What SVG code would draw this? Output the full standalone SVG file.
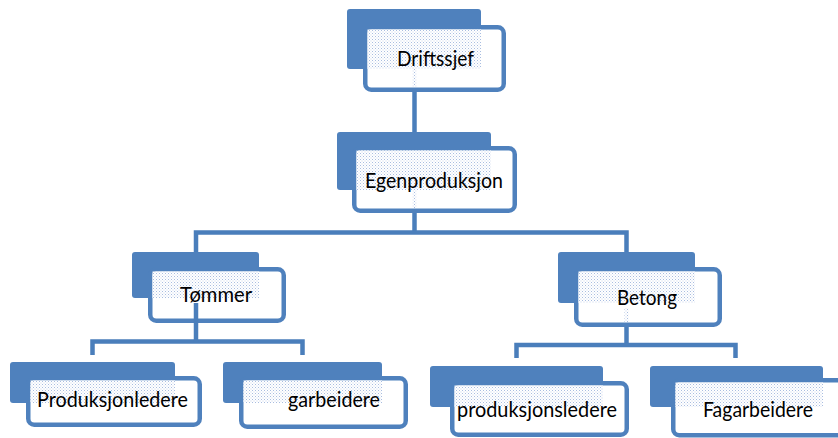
<svg xmlns="http://www.w3.org/2000/svg" width="838" height="438" viewBox="0 0 838 438">
<defs>
<pattern id="dots" width="3" height="3" patternUnits="userSpaceOnUse">
<rect x="0" y="0" width="3" height="3" fill="#ffffff"/>
<rect x="0" y="0" width="1" height="1" fill="#a9bde0"/>
<rect x="1.5" y="1.5" width="1" height="1" fill="#c9d6ed"/>
</pattern>
</defs>
<style>
.back{fill:#4f81bd;}
.front{fill:#ffffff;stroke:#4f81bd;stroke-width:4.5;}
.ov{fill:url(#dots);}
.lbl{font-family:Lato,"Liberation Sans",Arial,sans-serif;font-size:20.5px;fill:#000000;}
.conn{fill:none;stroke:#4a7ebb;stroke-width:4.5;}
</style>
<g id="connectors">
<path class="conn" d="M414.5 92 V146"/>
<path class="conn" d="M414.5 213 V232.5"/>
<path class="conn" d="M196 252 V232.5 H626.5 V252"/>
<path class="conn" d="M626.5 327 V345"/>
<path class="conn" d="M516.5 358 V345 H735.5 V358"/>
<path class="conn" d="M92.5 355 V341.5 H302.5 V355"/>
</g>
<g id="driftssjef">
<rect class="back" x="347" y="9" width="134" height="60" rx="3"/>
<rect class="front" x="365.25" y="27.25" width="138.5" height="62.5" rx="6"/>
<rect class="ov" x="367.5" y="29.5" width="113.5" height="39.5"/>
<rect class="ov" x="412.5" y="69" width="4" height="18"/>
<text class="lbl" x="397" y="65.5" textLength="77" lengthAdjust="spacingAndGlyphs">Driftssjef</text>
</g>
<g id="egenproduksjon">
<rect class="back" x="337" y="132" width="154" height="58" rx="3"/>
<rect class="front" x="354.25" y="148.25" width="160.5" height="62.5" rx="6"/>
<rect class="ov" x="356.5" y="150.5" width="134.5" height="39.5"/>
<rect class="ov" x="412.5" y="190" width="4" height="18"/>
<text class="lbl" x="365" y="187.5" textLength="138" lengthAdjust="spacingAndGlyphs">Egenproduksjon</text>
</g>
<g id="tommer">
<rect class="back" x="132" y="252" width="127" height="46" rx="3"/>
<rect class="front" x="150.25" y="269.25" width="133.5" height="51.5" rx="6"/>
<rect class="ov" x="152.5" y="271.5" width="106.5" height="26.5"/>
<text class="lbl" x="180" y="302" textLength="72" lengthAdjust="spacingAndGlyphs">Tømmer</text>
<path class="conn" d="M196 303 V342"/>
</g>
<g id="betong">
<rect class="back" x="558" y="252" width="137" height="51" rx="3"/>
<rect class="front" x="576.25" y="269.25" width="143.5" height="55.5" rx="6"/>
<rect class="ov" x="578.5" y="271.5" width="116.5" height="31.5"/>
<rect class="ov" x="624.5" y="308" width="4" height="14"/>
<text class="lbl" x="617" y="305" textLength="60" lengthAdjust="spacingAndGlyphs">Betong</text>
</g>
<g id="produksjonledere">
<rect class="back" x="10" y="362" width="165" height="41" rx="3"/>
<rect class="front" x="28.25" y="378.25" width="171.5" height="46.5" rx="6"/>
<rect class="ov" x="30.5" y="380.5" width="144.5" height="22.5"/>
<text class="lbl" x="37" y="407" textLength="151" lengthAdjust="spacingAndGlyphs">Produksjonledere</text>
</g>
<g id="fagarbeidere-tommer">
<rect class="back" x="223" y="362" width="159" height="41" rx="3"/>
<rect class="front" x="241.25" y="378.25" width="164.5" height="48.5" rx="6"/>
<rect class="ov" x="243.5" y="380.5" width="138.5" height="22.5"/>
<text class="lbl" x="288" y="407" textLength="92" lengthAdjust="spacingAndGlyphs">garbeidere</text>
</g>
<g id="produksjonsledere">
<rect class="back" x="430" y="366" width="173" height="41" rx="3"/>
<rect class="front" x="452.25" y="383.25" width="174.5" height="51.5" rx="6"/>
<rect class="ov" x="454.5" y="385.5" width="148.5" height="21.5"/>
<text class="lbl" x="457" y="417" textLength="160" lengthAdjust="spacingAndGlyphs">produksjonsledere</text>
</g>
<g id="fagarbeidere-betong">
<rect class="back" x="650" y="366" width="173" height="41" rx="3"/>
<rect class="front" x="673.25" y="380.25" width="190" height="55" rx="6"/>
<rect class="ov" x="675.5" y="382.5" width="147.5" height="24.5"/>
<text class="lbl" x="703" y="417" textLength="110" lengthAdjust="spacingAndGlyphs">Fagarbeidere</text>
</g>
</svg>
